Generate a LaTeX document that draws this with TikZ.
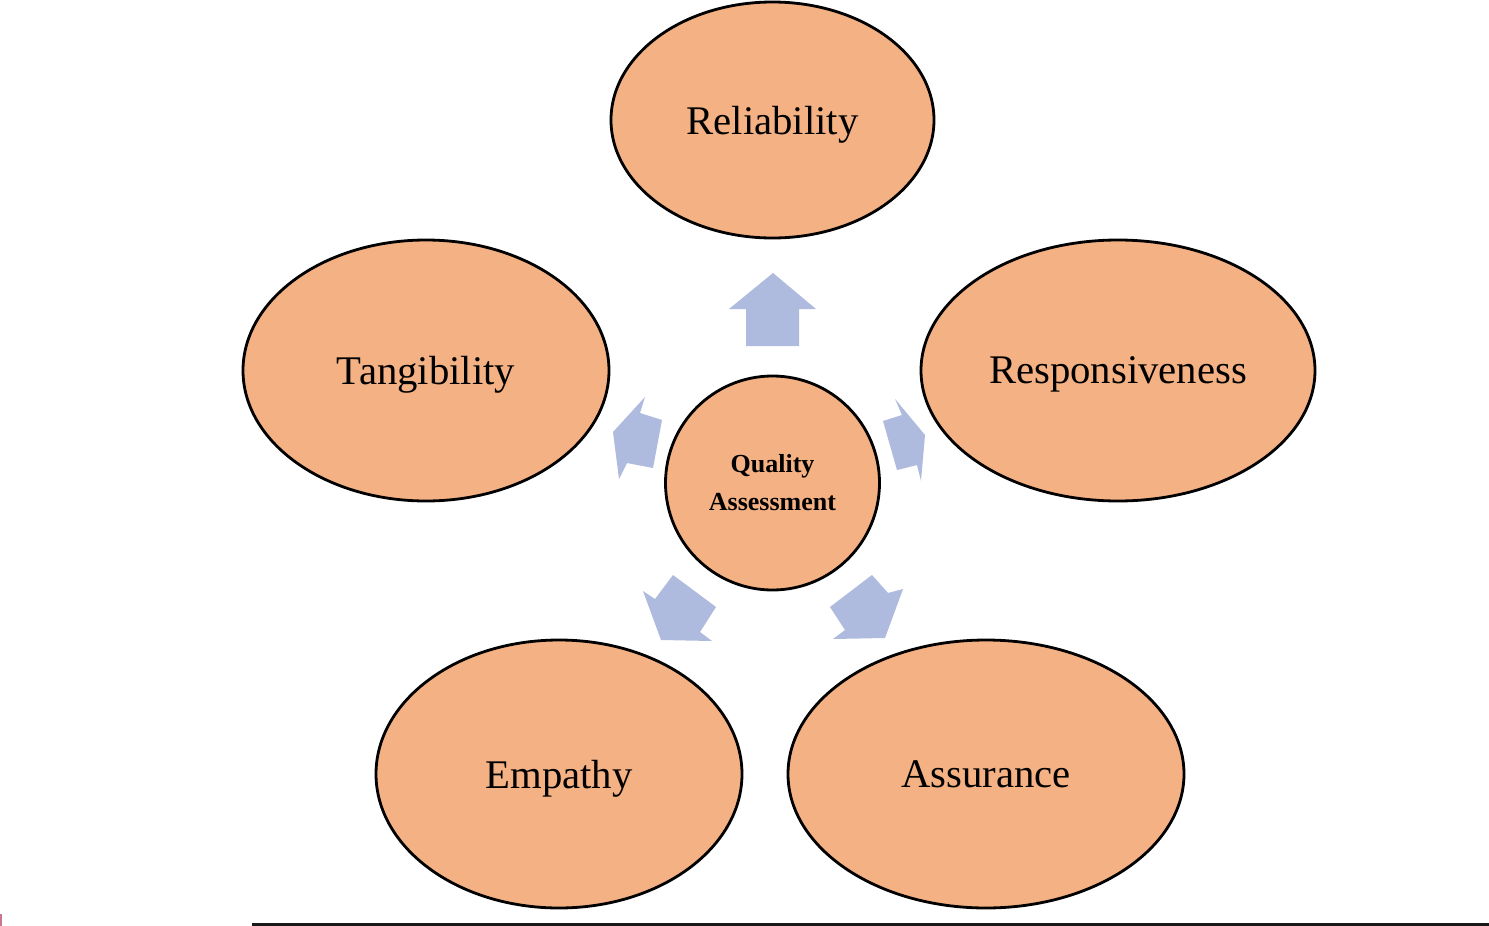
\documentclass[tikz,border=0pt]{standalone}
\usepackage{fontspec}
\setmainfont{Liberation Serif}
\usetikzlibrary{shapes.geometric}
\definecolor{petal}{RGB}{244,177,131}
\definecolor{arrowblue}{RGB}{174,186,222}
\definecolor{markred}{RGB}{200,120,140}
\tikzset{
  petal/.style={ellipse, draw=black, line width=2.8pt, fill=petal, inner sep=0pt,
    text depth=0pt, font=\fontsize{40.7}{46}\selectfont},
  hub/.style={circle, draw=black, line width=2.8pt, fill=petal, inner sep=0pt,
    minimum size=214pt, align=center, font=\fontsize{26}{38}\selectfont\bfseries},
  blockarrow/.style={fill=arrowblue, draw=none}
}
\begin{document}
\begin{tikzpicture}[x=1pt,y=-1pt]
\useasboundingbox (0,0) rectangle (1489,926);
\fill[white] (0,0) rectangle (1489,926);

\node[petal, minimum width=323pt, minimum height=236pt] (rel) at (772.5,120) {Reliability};
\node[petal, minimum width=366pt, minimum height=261pt] (tan) at (426,370.5) {Tangibility};
\node[petal, minimum width=394pt, minimum height=261pt] (res) at (1118,370.5) {Responsiveness};
\node[petal, minimum width=366pt, minimum height=268pt] (emp) at (559,774) {Empathy};
\node[petal, minimum width=396pt, minimum height=268pt] (ass) at (986,774) {Assurance};
\node[hub] (qa) at (772.5,483) {Quality\\Assessment};

% block arrows from the hub towards each dimension
\fill[blockarrow] (773,273) -- (816,309) -- (799,309) -- (799,346) -- (746,346) -- (746,309) -- (729,309) -- cycle;
\fill[blockarrow] (645,397) -- (640,413) -- (662,420) -- (653,468) -- (627,463) -- (619,479) -- (613,432) -- cycle;
\fill[blockarrow] (895,399) -- (902,415) -- (883,421) -- (897,470) -- (917,465) -- (921,481) -- (925,435) -- cycle;
\fill[blockarrow] (643,591) -- (655,599) -- (673,575) -- (716,607) -- (700,632) -- (712,641) -- (661,640) -- cycle;
\fill[blockarrow] (872,575) -- (888,593) -- (903,589) -- (885,638) -- (833,639) -- (845,630) -- (830,607) -- cycle;

% bottom rule and small mark
\fill[black!90] (252,922.5) rectangle (1489,926);
\fill[markred] (0,914) rectangle (2,926);
\end{tikzpicture}
\end{document}
